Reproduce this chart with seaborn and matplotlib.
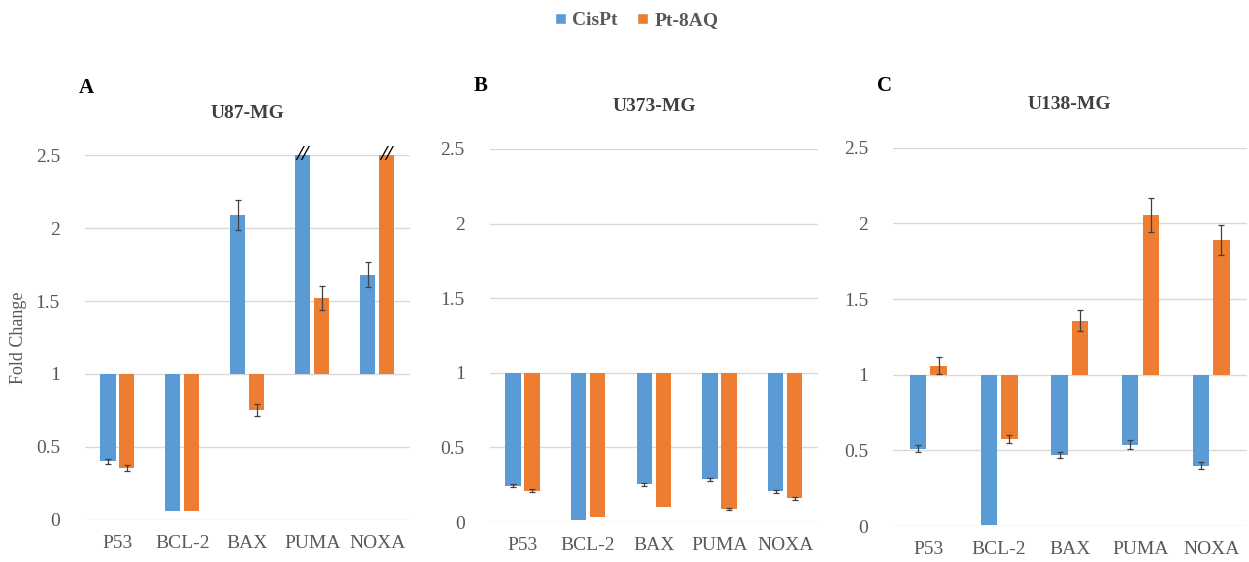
import pandas as pd
import matplotlib
matplotlib.use("Agg")
import matplotlib.pyplot as plt
import seaborn as sns
from matplotlib.patches import Patch

# ==================================
# DATA
# ==================================

genes = ["P53", "BCL-2", "BAX", "PUMA", "NOXA"]
treatments = ["CisPt", "Pt-8AQ"]

# U87-MG (PUMA CisPt and NOXA Pt-8AQ are off-scale, drawn cut at 2.5)
u87_cispt = [0.40, 0.06, 2.09, 2.50, 1.68]
u87_cispt_err = [0.02, 0.0, 0.10, 0.0, 0.085]
u87_pt8aq = [0.355, 0.06, 0.755, 1.52, 2.50]
u87_pt8aq_err = [0.02, 0.0, 0.04, 0.08, 0.0]

# U373-MG
u373_cispt = [0.245, 0.011, 0.252, 0.288, 0.206]
u373_cispt_err = [0.01, 0.0, 0.01, 0.01, 0.01]
u373_pt8aq = [0.21, 0.031, 0.098, 0.089, 0.159]
u373_pt8aq_err = [0.01, 0.0, 0.0, 0.005, 0.01]

# U138-MG
u138_cispt = [0.512, 0.007, 0.47, 0.538, 0.40]
u138_cispt_err = [0.025, 0.0, 0.02, 0.03, 0.02]
u138_pt8aq = [1.06, 0.576, 1.357, 2.056, 1.89]
u138_pt8aq_err = [0.055, 0.025, 0.07, 0.11, 0.10]

panels = [
    ("A", "U87-MG", u87_cispt, u87_cispt_err, u87_pt8aq, u87_pt8aq_err, [False, False, False, True, False], [False, False, False, False, True]),
    ("B", "U373-MG", u373_cispt, u373_cispt_err, u373_pt8aq, u373_pt8aq_err, [False] * 5, [False] * 5),
    ("C", "U138-MG", u138_cispt, u138_cispt_err, u138_pt8aq, u138_pt8aq_err, [False] * 5, [False] * 5),
]

colors = {"CisPt": "#5B9BD5", "Pt-8AQ": "#ED7D31"}

# ==================================
# STYLE
# ==================================

sns.set_style("white")
plt.rcParams["font.family"] = ["Liberation Serif", "DejaVu Serif"]

fig = plt.figure(figsize=(12.49, 5.62), dpi=100)

axes_pos = [
    [0.068, 0.075, 0.260, 0.649],
    [0.392, 0.071, 0.263, 0.664],
    [0.715, 0.064, 0.283, 0.673],
]
letter_xy = [(-0.02, 1.184), (-0.05, 1.169), (-0.045, 1.164)]

for pos, lxy, (letter, title, cis, cis_err, pt, pt_err, cis_cut, pt_cut) in zip(axes_pos, letter_xy, panels):
    ax = fig.add_axes(pos)

    df = pd.DataFrame({
        "Gene": genes * 2,
        "Treatment": ["CisPt"] * 5 + ["Pt-8AQ"] * 5,
        "Value": cis + pt,
    })
    # bars grow from the baseline 1
    df["Delta"] = df["Value"] - 1

    sns.barplot(
        data=df, x="Gene", y="Delta", hue="Treatment",
        order=genes, hue_order=treatments, palette=colors, saturation=1,
        width=0.58, gap=0.2, bottom=1, errorbar=None,
        legend=False, ax=ax, linewidth=0,
    )

    errs = [cis_err, pt_err]
    vals = [cis, pt]
    cuts = [cis_cut, pt_cut]
    bar_groups = list(ax.containers)
    for k, cont in enumerate(bar_groups):
        for j, bar in enumerate(cont.patches):
            xc = bar.get_x() + bar.get_width() / 2
            if errs[k][j] > 0:
                ax.errorbar(xc, vals[k][j], yerr=errs[k][j], fmt="none",
                            ecolor="#404040", elinewidth=0.9, capsize=2.5,
                            capthick=0.9, zorder=5)
            if cuts[k][j]:
                ax.text(xc, vals[k][j], "//", ha="center", va="center",
                        fontsize=16, style="italic", fontweight="bold",
                        color="black", clip_on=False, zorder=6)

    ax.set_ylim(0, 2.5)
    ax.set_xlim(-0.5, 4.5)
    ax.set_yticks([0, 0.5, 1, 1.5, 2, 2.5])
    ax.set_yticklabels(["0", "0.5", "1", "1.5", "2", "2.5"])
    ax.yaxis.grid(True, color="#d9d9d9", linewidth=1)
    ax.set_axisbelow(True)
    for s in ax.spines.values():
        s.set_visible(False)
    ax.tick_params(axis="both", length=0, labelsize=14, colors="#595959", pad=11)
    ax.tick_params(axis="y", pad=18)
    ax.set_xlabel("")
    ax.set_ylabel("")

    ax.text(0.5, 1.115, title, transform=ax.transAxes, ha="center", va="center",
            fontsize=14, fontweight="bold", color="#404040")
    ax.text(lxy[0], lxy[1], letter, transform=ax.transAxes,
            ha="left", va="center", fontsize=15, fontweight="bold", color="black")

    if letter == "A":
        ax.set_ylabel("Fold Change", fontsize=13, color="#595959", labelpad=6)

handles = [Patch(facecolor=colors[t], label=t) for t in treatments]
leg = fig.legend(handles=handles, loc="center", bbox_to_anchor=(0.51, 0.963),
                 ncol=2, frameon=False, handlelength=0.55, handleheight=0.55,
                 handletextpad=0.35, columnspacing=1.0,
                 prop={"size": 14, "weight": "bold"})
for t in leg.get_texts():
    t.set_color("#595959")

fig.savefig("out.png", dpi=100)
